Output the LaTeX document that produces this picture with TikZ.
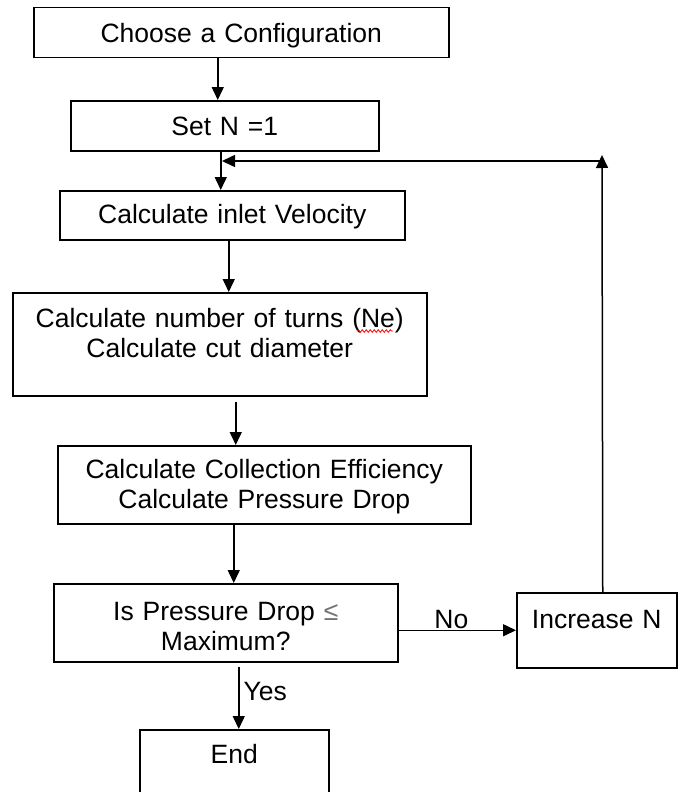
\documentclass[tikz,border=0pt]{standalone}
\usepackage{fontspec}
\setmainfont{Liberation Sans}
\usetikzlibrary{arrows.meta,decorations.pathmorphing}
\begin{document}
\begin{tikzpicture}[x=1pt,y=-1pt,
  box/.style={draw=black, line width=1.5pt, inner sep=0pt, align=center, anchor=north west,
    font=\fontsize{26.5}{30}\selectfont},
  arr/.style={line width=1.5pt, -{Triangle[length=13pt,width=12pt]}},
  lbl/.style={inner sep=0pt, font=\fontsize{26.5}{30}\selectfont}]
\clip (0,0) rectangle (678,792);
\fill[white] (0,0) rectangle (678,792);

\node[box, text width=415pt, text height=35pt, text depth=15pt] (b1) at (33,7) {Choose a Configuration};
\node[box, text width=308pt, text height=35pt, text depth=15pt] (b2) at (70,100) {Set N =1};
\node[box, text width=345pt, text height=33pt, text depth=16pt] (b3) at (59,190) {Calculate inlet Velocity};
\node[box, text width=414pt, text height=35pt, text depth=68pt] (b4) at (12,292) {Calculate number of turns (Ne)\\Calculate cut diameter};
\node[box, text width=413pt, text height=33pt, text depth=45pt] (b5) at (57,445) {Calculate Collection Efficiency\\Calculate Pressure Drop};
\node[box, text width=344pt, text height=37pt, text depth=41pt] (b6) at (53,583) {Is Pressure Drop {\color{black!55}≤}\\Maximum?};
\node[box, text width=160pt, text height=36pt, text depth=39pt] (inc) at (516,592) {Increase N};
\node[box, text width=189pt, text height=34pt, text depth=37pt] (b7) at (139,729) {End};

% spell-check squiggle under "Ne"
\draw[red, line width=0.8pt, decorate, decoration={snake, segment length=4pt, amplitude=1.3pt}] (357,331) -- (393,331);

\draw[arr] ([xshift=-23.5pt]b1.south) -- ([xshift=-23.5pt]b1.south |- b2.north);
\draw[arr] ([xshift=-4pt]b2.south) -- ([xshift=-4pt]b2.south |- b3.north);
\draw[arr] ([xshift=-3.5pt]b3.south) -- ([xshift=-3.5pt]b3.south |- b4.north);
\draw[arr] ([xshift=16pt,yshift=-5pt]b4.south) -- ([xshift=16pt]b4.south |- b5.north);
\draw[arr] ([xshift=-30.5pt]b5.south) -- ([xshift=-30.5pt]b5.south |- b6.north);
\draw[arr] ([xshift=13pt,yshift=-4pt]b6.south) -- node[lbl, pos=0.55, anchor=base west, xshift=4pt]{Yes} ([xshift=13pt]b6.south |- b7.north);
\draw[arr] (b6.east |- inc.west) -- node[lbl, pos=0.45, anchor=base, yshift=2pt]{No} (inc.west);

\coordinate (corner) at (602,161);
\coordinate (join) at (222,161);
\draw[arr] ([xshift=6pt]inc.north) -- ([yshift=6pt]corner);
\draw[arr] (corner) -- (join);
\end{tikzpicture}
\end{document}
